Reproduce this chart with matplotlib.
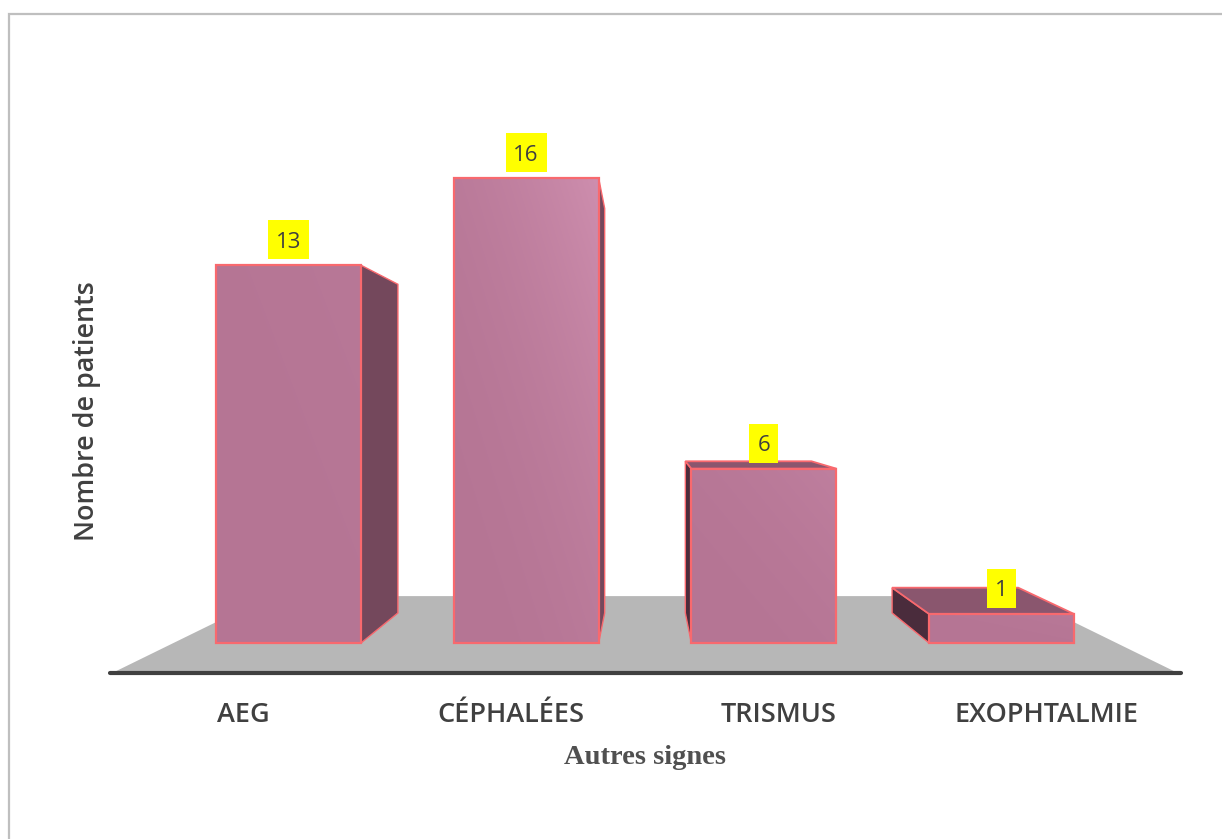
import numpy as np
import matplotlib
matplotlib.use("Agg")
import matplotlib.pyplot as plt
from matplotlib.patches import Polygon, Rectangle
from matplotlib.colors import to_rgb

categories = ["AEG", "CÉPHALÉES", "TRISMUS", "EXOPHTALMIE"]
patients = [13, 16, 6, 1]
sheen = [0.12, 1.0, 0.4, 0.15]

W, H = 1222, 839
PX_X = 237.67          # pixels per category step
PX_Y = 29.06           # pixels per patient
X0, Y0 = 288.5, 643.0  # pixel position of category 0, value 0 on the bars' front plane

BAR_W = 0.61
VANISH_X, VANISH_Y = 1.5, 7.95    # one-point perspective centre, data units
BACK, FLOOR_FRONT, FLOOR_BACK = 0.87, 1.126, 0.797
FLOOR_HALF = 1.984

EDGE = "#F8696E"
FRONT_BASE = np.array(to_rgb("#B57594"))
FRONT_LIGHT = np.array(to_rgb("#CE8EAE"))
SIDE_RIGHT = "#74485C"
SIDE_LEFT = "#4A2C3C"
TOP_FACE = "#8A566E"
TEXT = "#404040"


def project(x, y, s):
    """Scale a point towards the vanishing point; s is depth scale."""
    return (VANISH_X + s * (x - VANISH_X), VANISH_Y + s * (y - VANISH_Y))


fig = plt.figure(figsize=(W / 100, H / 100), dpi=100, facecolor="white")
ax = fig.add_axes([0, 0, 1, 1])
ax.set_xlim(-X0 / PX_X, (W - X0) / PX_X)
ax.set_ylim((Y0 - H) / PX_Y, Y0 / PX_Y)
ax.axis("off")

# Chart frame: top and left rules only reach the canvas edges
fx = lambda px: ax.get_xlim()[0] + px / PX_X
fy = lambda py: (Y0 - py) / PX_Y
ax.plot([fx(9), fx(9), fx(W)], [fy(H), fy(14), fy(14)], color="#BFBFBF", lw=1.6,
        solid_joinstyle="miter", zorder=1)

# Floor plane
floor = [project(VANISH_X - FLOOR_HALF, 0, FLOOR_FRONT),
         project(VANISH_X + FLOOR_HALF, 0, FLOOR_FRONT),
         project(VANISH_X + FLOOR_HALF, 0, FLOOR_BACK),
         project(VANISH_X - FLOOR_HALF, 0, FLOOR_BACK)]
ax.add_patch(Polygon(floor, closed=True, fc="#B7B7B7", ec="none", zorder=2))

# Category axis along the front edge of the floor
axis_y = fy(673)
ax.plot([fx(110), fx(1181)], [axis_y, axis_y], color="#404040", lw=3,
        solid_capstyle="round", zorder=3)

for i, (name, val) in enumerate(zip(categories, patients)):
    left, right = i - BAR_W / 2, i + BAR_W / 2
    z = 4 + i

    # Side face that faces the viewer, depending on the side of the centre
    if i < VANISH_X:
        side = [(right, 0), (right, val), project(right, val, BACK), project(right, 0, BACK)]
        side_col = SIDE_RIGHT
    else:
        side = [(left, 0), (left, val), project(left, val, BACK), project(left, 0, BACK)]
        side_col = SIDE_LEFT
    ax.add_patch(Polygon(side, closed=True, fc=side_col, ec=EDGE, lw=1.0, zorder=z))

    # Top face is only visible below eye level
    if val < VANISH_Y:
        top = [(left, val), (right, val), project(right, val, BACK), project(left, val, BACK)]
        ax.add_patch(Polygon(top, closed=True, fc=TOP_FACE, ec=EDGE, lw=1.3, zorder=z))

    # Front face with a diagonal sheen towards the top right corner
    u, v = np.meshgrid(np.linspace(0, 1, 80), np.linspace(1, 0, 160))
    t = ((u + v) / 2) ** 2.2 * sheen[i]
    rgb = FRONT_BASE[None, None, :] + t[..., None] * (FRONT_LIGHT - FRONT_BASE)
    ax.imshow(rgb, extent=(left, right, 0, val), aspect="auto", zorder=z + 0.1,
              interpolation="bilinear")
    ax.add_patch(Rectangle((left, 0), BAR_W, val, fc="none", ec=EDGE, lw=1.6, zorder=z + 0.2))

    # Yellow value tag above the bar
    box_w = (17 + 12 * len(str(val))) / PX_X
    box_h = 39 / PX_Y
    gap = 6 / PX_Y
    ax.add_patch(Rectangle((i - box_w / 2, val + gap), box_w, box_h, fc="#FFFF00", ec="none",
                           zorder=20))
    ax.text(i, val + gap + box_h / 2, str(val), ha="center", va="center_baseline",
            family="Open Sans", fontsize=16, color=TEXT, zorder=21)

    # Category label placed on the floor's front plane
    lx = project(i, 0, FLOOR_FRONT)[0]
    ax.text(lx, fy(715), name, ha="center", va="center", family="Open Sans",
            fontsize=19.5, weight="semibold", color=TEXT, zorder=21)

ax.text(fx(645), fy(758), "Autres signes", ha="center", va="center", family="Liberation Serif",
        fontsize=20.5, weight="bold", color="#505050")
ax.text(fx(87), fy(411), "Nombre de patients", ha="center", va="center", rotation=90,
        family="Open Sans", fontsize=19.4, weight="semibold", color=TEXT)

ax.set_xlim(-X0 / PX_X, (W - X0) / PX_X)
ax.set_ylim((Y0 - H) / PX_Y, Y0 / PX_Y)
fig.savefig("out.png", dpi=100)
